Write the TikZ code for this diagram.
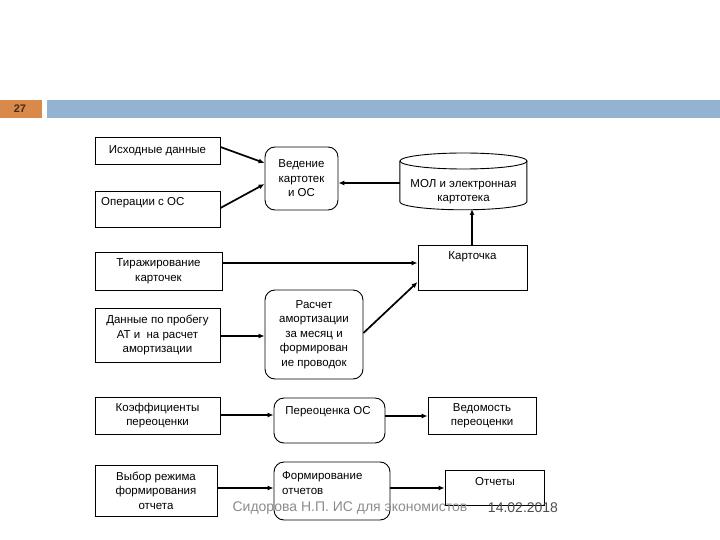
\documentclass[tikz,border=0pt]{standalone}
\usepackage{fontspec}
\setmainfont{Liberation Sans}
\usetikzlibrary{arrows.meta}
\definecolor{hdrorange}{HTML}{D9894A}
\definecolor{hdrblue}{HTML}{94B2D1}
\definecolor{footgray}{HTML}{8C8C8C}
\definecolor{numcol}{HTML}{4A2A14}
\tikzset{
  box/.style={draw, line width=0.9pt, inner sep=0pt, font=\fontsize{11.5}{14.5}\selectfont, align=center},
  rbox/.style={box, rounded corners=10pt},
  txt/.style={inner sep=0pt, font=\fontsize{11.5}{14.5}\selectfont, align=center},
  arr/.style={line width=1.7pt, -{Latex[length=6pt,width=5pt]}},
}
\begin{document}
\begin{tikzpicture}[x=1pt,y=-1pt]
\useasboundingbox (0,0) rectangle (720,540);
% header
\fill[hdrorange] (0,100) rectangle (42,118);
\node[font=\bfseries\fontsize{11}{12}\selectfont, text=numcol] (num) at (20,109) {27};
\fill[hdrblue] (47,100) rectangle (720,118);
% boxes
\node[box, minimum width=125pt, minimum height=27pt] (src) at (157.5,150.5) {Исходные данные};
\node[box, minimum width=125pt, minimum height=36pt] (ops) at (157.5,209) {};
\node[txt, anchor=west] (opst) at (101,203) {Операции с ОС};
\node[rbox, minimum width=73pt, minimum height=63pt] (ved) at (301.5,178.5) {Ведение\\картотек\\и ОС};
% cylinder
\node[minimum width=127pt, minimum height=57pt, inner sep=0pt] (mol) at (463.5,181.5) {};
\draw[line width=0.9pt] (mol.north west) ++(0,8) -- ++(0,41) arc[start angle=180, end angle=360, x radius=63.5pt, y radius=8pt] -- ++(0,-41);
\draw[line width=0.9pt] (463.5,161) ellipse [x radius=63.5pt, y radius=8pt];
\node[txt] (molt) at (463.5,191.5) {МОЛ и электронная\\картотека};
\node[box, minimum width=109pt, minimum height=45pt] (card) at (472.5,267.5) {};
\node[txt] (cardt) at (472.5,257) {Карточка};
\node[box, minimum width=127pt, minimum height=38pt] (tir) at (158.5,271) {Тиражирование\\карточек};
\node[box, minimum width=125pt, minimum height=54pt] (dan) at (157.5,335) {Данные по пробегу\\АТ и~ на расчет\\амортизации};
\node[rbox, minimum width=98pt, minimum height=89pt] (ras) at (314,334.5) {Расчет\\амортизации\\за месяц и\\формирован\\ие проводок};
\node[box, minimum width=125pt, minimum height=37pt] (koef) at (157.5,415.5) {Коэффициенты\\переоценки};
\node[rbox, minimum width=111pt, minimum height=45pt] (per) at (329.5,420.5) {};
\node[txt] (pert) at (328,412) {Переоценка ОС};
\node[box, minimum width=108pt, minimum height=37pt] (ved2) at (482,415.5) {Ведомость\\переоценки};
\node[box, minimum width=122pt, minimum height=51pt] (vyb) at (156,490.5) {Выбор режима\\формирования\\отчета};
\node[rbox, minimum width=116pt, minimum height=58pt] (form) at (332,491) {};
\node[txt, anchor=west, align=left] (formt) at (282,483) {Формирование\\отчетов};
\node[box, minimum width=99pt, minimum height=35pt] (otch) at (494.5,487.5) {};
\node[txt] (otcht) at (495,482) {Отчеты};
% connectors
\draw[arr] (src.east |- 0,147) -- (ved.west |- 0,163);
\draw[arr] (ops.east |- 0,208) -- (ved.west |- 0,184);
\draw[arr] (mol.west |- 0,183) -- (ved.east |- 0,183);
\draw[arr] (card.north -| 472,0) -- (472,209);
\draw[arr] (tir.east |- 0,263) -- (card.west |- 0,263);
\draw[arr] (dan.east |- 0,336) -- (ras.west |- 0,336);
\draw[arr] (ras.east |- 0,333) -- (card.west |- 0,282);
\draw[arr] (koef.east |- 0,415) -- (per.west |- 0,415);
\draw[arr] (per.east |- 0,416) -- (ved2.west |- 0,416);
\draw[arr] (vyb.east |- 0,488) -- (form.west |- 0,488);
\draw[arr] (form.east |- 0,488) -- (otch.west |- 0,488);
% footer
\node[font=\fontsize{14}{16}\selectfont, text=footgray] (foot) at (350,508) {Сидорова Н.П. ИС для экономистов};
\node[font=\fontsize{14}{16}\selectfont, text=black!70] (date) at (523,508) {14.02.2018};
\end{tikzpicture}
\end{document}
